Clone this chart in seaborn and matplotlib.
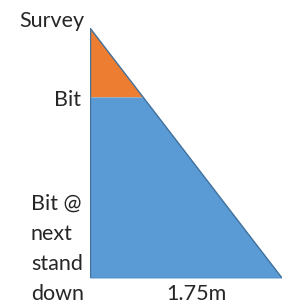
"""
Survey-to-bit projection sketch (triangle diagram)
"""

import numpy as np
import pandas as pd
import matplotlib
matplotlib.use("Agg")
import matplotlib.pyplot as plt
import seaborn as sns

# depths along the hole (m) and horizontal offset at the bottom
level_names = ["Survey", "Bit", "Bit @\nnext\nstand\ndown"]
level_depths = [0.0, 8.0, 29.0]
bottom_offset = 1.75
offset_label = "1.75m"

orange = "#ED7D31"
blue = "#5B9BD5"
edge = "#41719C"

sns.set_theme(style="white")
plt.rcParams["font.family"] = ["Lato", "DejaVu Sans"]

df = pd.DataFrame({"depth": level_depths})
df["offset"] = bottom_offset * df["depth"] / level_depths[-1]

fig = plt.figure(figsize=(2.82, 3.04), dpi=100)
ax = fig.add_axes([90 / 282, 26 / 304, 192 / 282, 250 / 304])

# orange: survey -> bit, blue: bit -> next stand
top = df.iloc[:2]
bot = df.iloc[1:]
ax.fill_betweenx(top["depth"], 0, top["offset"], color=orange, lw=0)
ax.fill_betweenx(bot["depth"], 0, bot["offset"], color=blue, lw=0)
sns.lineplot(data=df, x="offset", y="depth", sort=False, color=edge, lw=1, ax=ax)
ax.plot([0, 0], [level_depths[0], level_depths[-1]], color=edge, lw=1)
ax.plot([0, bottom_offset], [level_depths[-1], level_depths[-1]], color=edge, lw=1)

ax.set_xlim(0, bottom_offset)
ax.set_ylim(level_depths[-1], level_depths[0])
ax.axis("off")

# labels
fs = 15.5
fig.text(84 / 282, 1 - 21 / 304, level_names[0], ha="right", va="center", fontsize=fs)
fig.text(81 / 282, 1 - 100 / 304, level_names[1], ha="right", va="center", fontsize=fs)
fig.text(31 / 282, 1 - 249 / 304, level_names[2], ha="left", va="center",
         fontsize=fs, linespacing=1.62)
fig.text(196 / 282, 1 - 294 / 304, offset_label, ha="center", va="center", fontsize=fs)

plt.savefig("out.png", dpi=100)
plt.close()
